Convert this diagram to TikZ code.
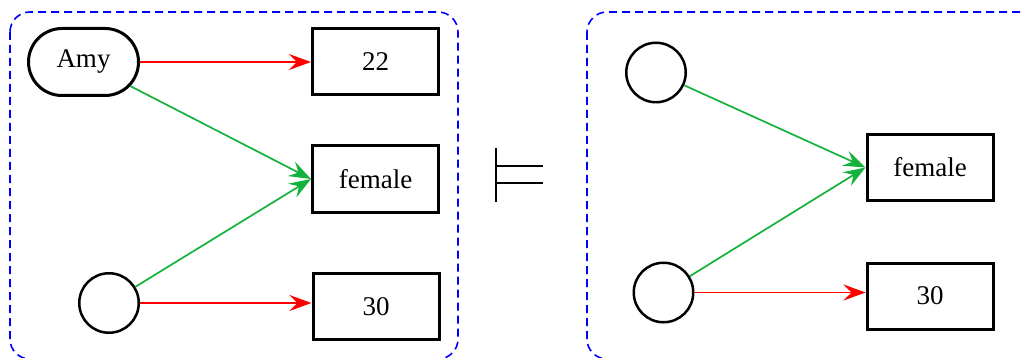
\documentclass[tikz,border=0pt]{standalone}
\usepackage{fontspec}
\setmainfont{Liberation Serif}
\usetikzlibrary{arrows.meta,shapes.misc}
\definecolor{relgreen}{RGB}{20,178,60}
\begin{document}
\begin{tikzpicture}[x=1pt,y=-1pt,
  every node/.style={font=\fontsize{27}{32}\selectfont},
  valbox/.style={draw,line width=3pt,minimum width=126pt,minimum height=66pt,inner sep=0pt},
  ent/.style={draw,circle,line width=2.5pt,minimum size=59.5pt,inner sep=0pt},
  pill/.style={draw,rounded rectangle,line width=3pt,minimum width=110pt,minimum height=67pt,inner sep=0pt},
  graphbox/.style={draw=blue,dash pattern=on 8pt off 5pt,line width=1.6pt,rounded corners=20pt},
  rel/.style={line width=1.7pt,-{Stealth[length=22pt,width=16pt,inset=8pt]}},
  redrel/.style={rel,red},
  greenrel/.style={rel,relgreen},
  models/.style={line width=1.2pt}]
\useasboundingbox (0,0) rectangle (1024,358);
\clip (0,0) rectangle (1024,358);
% graph boxes
\draw[graphbox] (10,12) rectangle (458,359);
\draw[graphbox] (587,12) rectangle (1045,359);
% left graph
\node[pill] (amy) at (83.5,62) {Amy};
\node[valbox] (l22) at (375.5,61.5) {22};
\node[valbox] (lfem) at (375.5,179) {female};
\node[valbox] (l30) at (376,306.5) {30};
\node[ent] (lc) at (109,303) {};
\draw[redrel] (amy.east) -- (amy.east -| l22.west);
\draw[greenrel] (amy) -- (lfem.west);
\draw[greenrel] (lc) -- (lfem.west);
\draw[redrel] (lc.east) -- (lc.east -| l30.west);
% models symbol
\coordinate (mtop) at (496,148);
\coordinate (mbot) at (496,202);
\coordinate (m1) at (496,166);
\coordinate (m1e) at (543,166);
\coordinate (m2) at (496,183);
\coordinate (m2e) at (543,183);
\draw[models] (mtop) -- (mbot);
\draw[models] (m1) -- (m1e);
\draw[models] (m2) -- (m2e);
% right graph
\node[ent] (rc1) at (656,72.5) {};
\node[valbox] (rfem) at (930,167.5) {female};
\node[ent] (rc2) at (663.5,292.5) {};
\node[valbox] (r30) at (930,296) {30};
\draw[greenrel] (rc1) -- (rfem.west);
\draw[greenrel] (rc2) -- (rfem.west);
\draw[redrel] (rc2.east) -- (rc2.east -| r30.west);
\end{tikzpicture}
\end{document}
